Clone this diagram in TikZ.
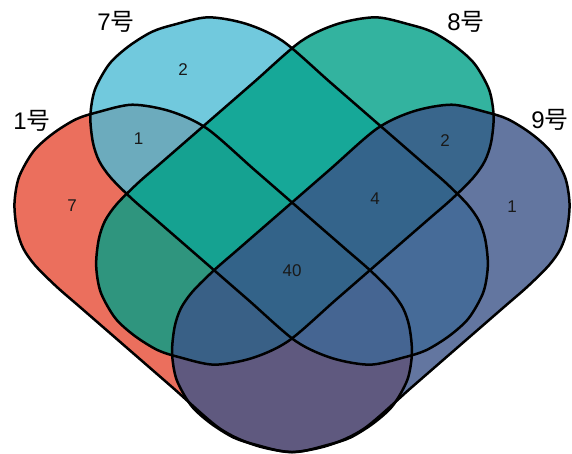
\documentclass[tikz,border=0pt]{standalone}
\usepackage{fontspec}
\setmainfont{Liberation Sans}
\newfontfamily\cjk{Noto Sans CJK SC}
\definecolor{cA}{HTML}{E64B35}
\definecolor{cB}{HTML}{4DBBD5}
\definecolor{cC}{HTML}{00A087}
\definecolor{cD}{HTML}{3C5488}
\def\shapepts{(-103,109) (-40,109) (20,109) (80,109) (113,109) (143,107) (163,102) (180,92) (199,74) (213,51) (219,22) (216,-4) (208,-30) (196,-50) (175,-78) (142,-98) (103,-109) (40,-109) (-20,-109) (-80,-109) (-113,-109) (-143,-107) (-163,-102) (-180,-92) (-199,-74) (-213,-51) (-219,-22) (-216,4) (-208,30) (-196,50) (-175,78) (-142,98)}
\tikzset{
  setfill/.style={fill=#1, fill opacity=0.8, draw=none},
  setline/.style={draw=black, line width=2.5pt, fill=none},
  setlabel/.style={font=\fontsize{24}{24}\selectfont, text=black, inner sep=0pt},
  cnt/.style={font=\fontsize{17}{17}\selectfont, text=black!90, inner sep=0pt},
  posA/.style={shift={(213.2,175.6)}, rotate=-41},
  posB/.style={shift={(289.1,263)}, rotate=-41},
  posC/.style={shift={(294.9,263)}, rotate=41, xscale=-1},
  posD/.style={shift={(370.8,175.6)}, rotate=41, xscale=-1}
}
\begin{document}
\begin{tikzpicture}[x=1pt,y=1pt]
\useasboundingbox (0,0) rectangle (572,454);
% fills
\begin{scope}[posA]\path[setfill=cA] plot[smooth cycle] coordinates {\shapepts};\end{scope}
\begin{scope}[posB]\path[setfill=cB] plot[smooth cycle] coordinates {\shapepts};\end{scope}
\begin{scope}[posC]\path[setfill=cC] plot[smooth cycle] coordinates {\shapepts};\end{scope}
\begin{scope}[posD]\path[setfill=cD] plot[smooth cycle] coordinates {\shapepts};\end{scope}
% outlines
\begin{scope}[posA]\path[setline] plot[smooth cycle] coordinates {\shapepts};\end{scope}
\begin{scope}[posB]\path[setline] plot[smooth cycle] coordinates {\shapepts};\end{scope}
\begin{scope}[posC]\path[setline] plot[smooth cycle] coordinates {\shapepts};\end{scope}
\begin{scope}[posD]\path[setline] plot[smooth cycle] coordinates {\shapepts};\end{scope}
% set labels
\node[setlabel] (l1) at (32,333) {1{\cjk 号}};
\node[setlabel] (l7) at (116,432) {7{\cjk 号}};
\node[setlabel] (l8) at (466,432) {8{\cjk 号}};
\node[setlabel] (l9) at (550,334) {9{\cjk 号}};
% counts
\node[cnt] (n7) at (183,384) {2};
\node[cnt] (n17) at (138.5,315) {1};
\node[cnt] (n1) at (72,248) {7};
\node[cnt] (n89) at (445,313) {2};
\node[cnt] (n789) at (375,255) {4};
\node[cnt] (n9) at (512,247) {1};
\node[cnt] (nall) at (292,183) {40};
\end{tikzpicture}
\end{document}
